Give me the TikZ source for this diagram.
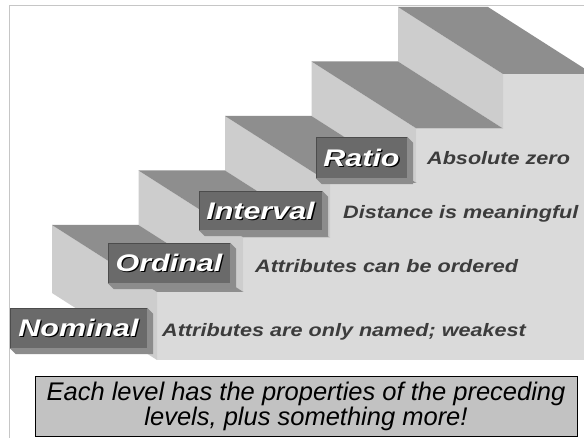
\documentclass[tikz,border=0pt]{standalone}
\usepackage{fontspec}
\setmainfont{Liberation Sans}
\newfontfamily\lvlfont{Liberation Sans}[FakeStretch=1.27]
\newfontfamily\descfont{Liberation Sans}[FakeStretch=1.2]

\definecolor{treadgray}{HTML}{8E8E8E}
\definecolor{risergray}{HTML}{CDCDCD}
\definecolor{frontgray}{HTML}{DADADA}
\definecolor{boxgray}{HTML}{6A6A6A}
\definecolor{boxside}{HTML}{8C8C8C}
\definecolor{desctext}{HTML}{3C3C3C}
\definecolor{framegray}{HTML}{C6C6C6}
\definecolor{notegray}{HTML}{C2C2C2}

% embossed white caption with a dark drop shadow
\newcommand{\embossed}[1]{\rlap{\kern1.3pt\raisebox{-1.3pt}{\textcolor{black}{#1}}}\textcolor{white}{#1}}

\tikzset{
  levelbox/.style={fill=boxgray, draw=black!70, line width=0.4pt, inner sep=0pt,
    font=\lvlfont\bfseries\itshape\fontsize{24}{26}\selectfont,
    text height=17.2pt, text depth=0pt},
  levelside/.style={fill=boxside},
  levelnote/.style={anchor=base west, text=desctext, inner sep=0pt,
    font=\descfont\bfseries\itshape\fontsize{18}{20}\selectfont},
  summary/.style={fill=notegray, draw=black, line width=0.9pt, inner sep=0pt,
    align=center, font=\itshape\fontsize{25.5}{25}\selectfont}
}

\begin{document}
\begin{tikzpicture}[x=1pt, y=-1pt]
\useasboundingbox (0,0) rectangle (584,438);
\clip (0,0) rectangle (584,438);
\fill[white] (0,0) rectangle (584,438);

% page frame
\draw[framegray, line width=1.3pt] (9.5,460) -- (9.5,5.5) -- (620,5.5);

% front face of the staircase
\fill[frontgray] (157,360) -- (157,292) -- (243.5,292) -- (243.5,237.5)
  -- (330,237.5) -- (330,183) -- (416.5,183) -- (416.5,128.5)
  -- (503,128.5) -- (503,74) -- (620,74) -- (620,360) -- cycle;

% risers and treads, top step first
\foreach \k in {0,...,4}{
  \pgfmathsetmacro{\bx}{398-86.5*\k}
  \pgfmathsetmacro{\by}{7+54.5*\k}
  \pgfmathsetmacro{\hh}{\k==4 ? 68 : 54.5}
  \pgfmathsetmacro{\ww}{\k==0 ? 90 : 86.5}
  \fill[risergray] (\bx,\by) -- ++(105,67) -- ++(0,\hh) -- ++(-105,-67) -- cycle;
  \fill[treadgray] (\bx,\by) -- ++(\ww,0) -- ++(105,67) -- ++(-\ww,0) -- cycle;
}

% level captions
\node[levelbox, minimum width=91pt, minimum height=41pt] (ratio) at (361.5,157.5) {\embossed{Ratio}};
\node[levelbox, minimum width=123pt, minimum height=39pt] (interval) at (260.5,210.5) {\embossed{Interval}};
\node[levelbox, minimum width=122pt, minimum height=40pt] (ordinal) at (169,263) {\embossed{Ordinal}};
\node[levelbox, minimum width=137pt, minimum height=40pt] (nominal) at (78.5,328) {\embossed{Nominal}};

\foreach \b in {ratio, interval, ordinal, nominal}{
  \fill[levelside] (\b.north east) -- ([shift={(6,6)}]\b.north east)
    -- ([shift={(6,6)}]\b.south east) -- ([shift={(6,6)}]\b.south west)
    -- (\b.south west) -- (\b.south east) -- cycle;
}

% descriptions on the front face
\node[levelnote] (ratiotext) at (427,165) {Absolute zero};
\node[levelnote] (intervaltext) at (343,218.5) {Distance is meaningful};
\node[levelnote] (ordinaltext) at (255,272.5) {Attributes can be ordered};
\node[levelnote] (nominaltext) at (162,336.5) {Attributes are only named; weakest};

% summary box
\node[summary, minimum width=542pt, minimum height=60pt] (summary) at (306,406)
  {Each level has the properties of the preceding\\levels, plus something more!};
\end{tikzpicture}
\end{document}
